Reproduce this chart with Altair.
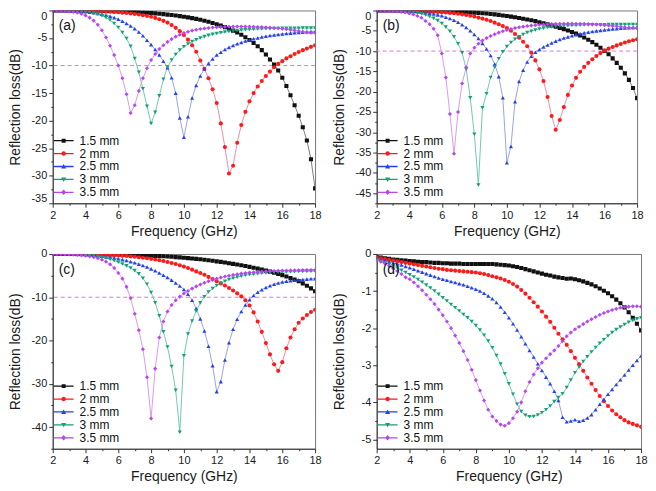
import altair as alt
import pandas as pd

FONT = "Liberation Sans"

freq = [2.0, 2.25, 2.5, 2.75, 3.0, 3.25, 3.5, 3.75, 4.0, 4.25, 4.5, 4.75,
        5.0, 5.25, 5.5, 5.75, 6.0, 6.25, 6.5, 6.75, 7.0, 7.25, 7.5, 7.75,
        8.0, 8.25, 8.5, 8.75, 9.0, 9.25, 9.5, 9.75, 10.0, 10.25, 10.5, 10.75,
        11.0, 11.25, 11.5, 11.75, 12.0, 12.25, 12.5, 12.75, 13.0, 13.25, 13.5, 13.75,
        14.0, 14.25, 14.5, 14.75, 15.0, 15.25, 15.5, 15.75, 16.0, 16.25, 16.5, 16.75,
        17.0, 17.25, 17.5, 17.75, 18.0]

# ---------------- panel (a) ----------------
a_15 = [0, 0, -0.01, -0.01, -0.01, -0.02, -0.02, -0.03, -0.03, -0.04, -0.05, -0.06,
        -0.07, -0.08, -0.1, -0.12, -0.14, -0.17, -0.2, -0.23, -0.27, -0.31, -0.36, -0.41,
        -0.47, -0.53, -0.6, -0.67, -0.75, -0.83, -0.92, -1.02, -1.13, -1.25, -1.38, -1.53,
        -1.69, -1.87, -2.06, -2.27, -2.5, -2.75, -3.02, -3.32, -3.65, -4.0, -4.4, -4.85,
        -5.35, -5.9, -6.5, -7.2, -8.0, -8.9, -9.8, -10.9, -12.2, -13.7, -15.4, -17.2,
        -19.1, -21.2, -23.6, -27.0, -32.3]
a_20 = [0, -0.01, -0.01, -0.02, -0.03, -0.04, -0.05, -0.06, -0.08, -0.1, -0.12, -0.14,
        -0.17, -0.2, -0.24, -0.28, -0.33, -0.39, -0.46, -0.54, -0.63, -0.74, -0.86, -1.0,
        -1.15, -1.35, -1.6, -1.88, -2.2, -2.65, -3.15, -3.75, -4.45, -5.3, -6.3, -7.5,
        -9.1, -10.6, -12.3, -14.3, -16.8, -20.5, -24.8, -29.6, -28.2, -24.0, -20.8, -18.4,
        -16.5, -15.0, -13.8, -12.8, -11.9, -11.1, -10.3, -9.7, -9.2, -8.7, -8.3, -7.9,
        -7.55, -7.2, -6.9, -6.6, -6.3]
a_25 = [0, -0.01, -0.02, -0.03, -0.06, -0.09, -0.13, -0.18, -0.24, -0.32, -0.42, -0.55,
        -0.7, -0.85, -1.05, -1.3, -1.6, -1.95, -2.35, -2.8, -3.3, -3.9, -4.6, -5.4,
        -6.2, -7.1, -8.1, -9.2, -10.4, -12.2, -15.0, -19.5, -23.0, -19.3, -15.9, -13.6,
        -11.9, -10.6, -9.6, -8.8, -8.1, -7.6, -7.1, -6.7, -6.35, -6.05, -5.8, -5.55,
        -5.35, -5.15, -4.98, -4.82, -4.68, -4.56, -4.45, -4.35, -4.26, -4.18, -4.11, -4.04,
        -3.98, -3.93, -3.88, -3.84, -3.8]
a_30 = [0, -0.01, -0.02, -0.04, -0.06, -0.09, -0.13, -0.18, -0.28, -0.38, -0.52, -0.7,
        -0.95, -1.3, -1.75, -2.35, -3.1, -4.0, -5.1, -6.5, -8.7, -11.2, -14.2, -17.4,
        -20.5, -18.5, -15.5, -12.5, -10.3, -9.0, -8.0, -7.2, -6.6, -6.1, -5.65, -5.3,
        -5.0, -4.75, -4.52, -4.33, -4.17, -4.03, -3.91, -3.81, -3.72, -3.64, -3.57, -3.51,
        -3.46, -3.42, -3.38, -3.35, -3.32, -3.3, -3.28, -3.26, -3.25, -3.24, -3.23, -3.22,
        -3.21, -3.2, -3.2, -3.2, -3.2]
a_35 = [0, -0.02, -0.05, -0.1, -0.17, -0.27, -0.4, -0.6, -0.9, -1.3, -1.85, -2.6,
        -3.6, -4.9, -6.4, -8.1, -10.0, -12.3, -15.2, -18.6, -17.2, -14.6, -12.3, -10.5,
        -9.0, -7.9, -7.0, -6.3, -5.7, -5.2, -4.75, -4.4, -4.1, -3.85, -3.65, -3.5,
        -3.37, -3.26, -3.17, -3.1, -3.04, -3.0, -2.97, -2.95, -2.93, -2.92, -2.92, -2.93,
        -2.94, -2.96, -2.99, -3.02, -3.06, -3.11, -3.17, -3.24, -3.32, -3.41, -3.51, -3.62,
        -3.73, -3.85, -3.97, -4.05, -4.1]

# ---------------- panel (b) ----------------
b_15 = [0, 0, 0, -0.01, -0.01, -0.01, -0.02, -0.02, -0.03, -0.04, -0.05, -0.06,
        -0.07, -0.09, -0.11, -0.13, -0.16, -0.19, -0.22, -0.26, -0.3, -0.35, -0.4, -0.46,
        -0.52, -0.59, -0.67, -0.76, -0.86, -0.97, -1.09, -1.22, -1.36, -1.51, -1.67, -1.84,
        -2.02, -2.21, -2.41, -2.63, -2.9, -3.15, -3.42, -3.7, -4.0, -4.3, -4.6, -4.95,
        -5.3, -5.7, -6.15, -6.65, -7.2, -7.8, -8.45, -9.17, -9.95, -10.8, -11.8, -12.9,
        -14.1, -15.5, -17.1, -19.1, -21.6]
b_20 = [0, -0.01, -0.01, -0.02, -0.03, -0.04, -0.05, -0.07, -0.09, -0.11, -0.14, -0.17,
        -0.21, -0.25, -0.3, -0.36, -0.43, -0.51, -0.6, -0.7, -0.82, -0.95, -1.1, -1.3,
        -1.5, -1.75, -2.0, -2.3, -2.6, -3.0, -3.4, -3.85, -4.3, -5.0, -5.8, -6.7,
        -7.7, -8.8, -10.4, -12.3, -14.5, -17.4, -21.3, -26.0, -29.4, -27.0, -23.8, -20.8,
        -18.5, -16.6, -15.1, -13.9, -12.9, -12.0, -11.2, -10.5, -9.9, -9.4, -9.0, -8.6,
        -8.25, -7.9, -7.6, -7.35, -7.1]
b_25 = [0, -0.01, -0.02, -0.03, -0.05, -0.07, -0.1, -0.14, -0.19, -0.25, -0.32, -0.41,
        -0.55, -0.7, -0.88, -1.08, -1.3, -1.65, -2.0, -2.4, -2.9, -3.5, -4.2, -5.0,
        -5.9, -6.9, -8.1, -9.5, -11.1, -13.2, -16.3, -21.5, -37.5, -33.5, -22.5, -17.5,
        -14.7, -12.7, -11.3, -10.3, -9.6, -9.0, -8.5, -8.0, -7.55, -7.15, -6.8, -6.5,
        -6.2, -5.95, -5.72, -5.52, -5.34, -5.18, -5.03, -4.9, -4.78, -4.67, -4.57, -4.48,
        -4.4, -4.32, -4.25, -4.18, -4.12]
b_30 = [0, -0.01, -0.03, -0.05, -0.08, -0.12, -0.17, -0.24, -0.33, -0.44, -0.58, -0.8,
        -1.1, -1.5, -1.95, -2.5, -3.2, -4.1, -5.1, -6.5, -8.2, -10.4, -14.5, -21.5,
        -30.5, -43.0, -24.0, -20.5, -16.5, -14.0, -11.9, -10.2, -8.9, -7.9, -7.1, -6.45,
        -5.9, -5.45, -5.1, -4.8, -4.55, -4.35, -4.2, -4.07, -3.97, -3.89, -3.82, -3.76,
        -3.71, -3.67, -3.63, -3.6, -3.57, -3.55, -3.53, -3.51, -3.5, -3.49, -3.48, -3.47,
        -3.46, -3.46, -3.45, -3.45, -3.45]
b_35 = [0, -0.02, -0.05, -0.09, -0.15, -0.23, -0.34, -0.5, -0.75, -1.0, -1.35, -1.8,
        -2.6, -3.4, -4.5, -6.1, -10.6, -16.5, -25.5, -35.3, -25.0, -18.0, -14.0, -10.6,
        -9.2, -8.2, -7.4, -6.8, -6.3, -5.85, -5.45, -5.1, -4.8, -4.55, -4.33, -4.14,
        -3.98, -3.84, -3.72, -3.62, -3.53, -3.46, -3.4, -3.35, -3.31, -3.28, -3.26, -3.25,
        -3.25, -3.26, -3.28, -3.31, -3.35, -3.4, -3.46, -3.53, -3.61, -3.7, -3.8, -3.91,
        -4.02, -4.13, -4.24, -4.33, -4.4]

# ---------------- panel (c) ----------------
c_15 = [0, 0, 0, 0, -0.01, -0.01, -0.01, -0.02, -0.02, -0.03, -0.04, -0.05,
        -0.06, -0.07, -0.09, -0.11, -0.13, -0.15, -0.18, -0.21, -0.24, -0.27, -0.31, -0.35,
        -0.39, -0.44, -0.49, -0.54, -0.6, -0.66, -0.73, -0.8, -0.88, -0.96, -1.05, -1.14,
        -1.24, -1.35, -1.46, -1.58, -1.71, -1.84, -1.98, -2.13, -2.29, -2.45, -2.62, -2.8,
        -2.99, -3.19, -3.4, -3.62, -3.85, -4.09, -4.35, -4.62, -4.9, -5.2, -5.55, -5.9,
        -6.3, -6.8, -7.35, -7.95, -8.6]
c_20 = [0, -0.01, -0.01, -0.02, -0.03, -0.04, -0.05, -0.06, -0.08, -0.1, -0.12, -0.14,
        -0.17, -0.2, -0.24, -0.29, -0.35, -0.41, -0.48, -0.56, -0.65, -0.75, -0.86, -0.99,
        -1.13, -1.28, -1.45, -1.64, -1.85, -2.08, -2.33, -2.61, -2.92, -3.26, -3.63, -4.03,
        -4.4, -4.8, -5.3, -5.8, -6.3, -6.8, -7.3, -7.85, -8.45, -9.1, -9.8, -10.7,
        -11.9, -13.5, -15.6, -18.0, -20.6, -23.2, -25.5, -27.0, -25.0, -21.8, -19.3, -17.4,
        -15.9, -14.9, -14.1, -13.4, -12.9]
c_25 = [0, -0.01, -0.02, -0.03, -0.05, -0.07, -0.1, -0.14, -0.19, -0.25, -0.32, -0.41,
        -0.51, -0.63, -0.77, -0.93, -1.11, -1.31, -1.53, -1.78, -2.05, -2.35, -2.67, -3.02,
        -3.45, -3.9, -4.4, -4.9, -5.45, -6.05, -6.7, -7.4, -8.2, -9.3, -10.7, -12.6,
        -15.0, -17.8, -21.3, -25.8, -31.8, -29.5, -24.5, -20.5, -17.4, -15.1, -13.3, -11.8,
        -10.6, -9.6, -8.85, -8.25, -7.75, -7.35, -7.0, -6.72, -6.5, -6.32, -6.18, -6.06,
        -5.96, -5.88, -5.81, -5.75, -5.7]
c_30 = [0, -0.01, -0.03, -0.05, -0.06, -0.09, -0.14, -0.2, -0.28, -0.37, -0.48, -0.62,
        -0.8, -1.0, -1.25, -1.55, -1.9, -2.3, -2.75, -3.25, -3.85, -4.6, -5.6, -7.0,
        -8.9, -11.3, -14.3, -18.0, -21.5, -26.0, -31.5, -41.2, -23.5, -18.5, -15.5, -13.2,
        -11.3, -9.9, -8.8, -8.0, -7.3, -6.75, -6.3, -5.9, -5.6, -5.35, -5.12, -4.93,
        -4.78, -4.66, -4.56, -4.47, -4.4, -4.34, -4.29, -4.24, -4.2, -4.16, -4.13, -4.1,
        -4.07, -4.05, -4.03, -4.01, -4.0]
c_35 = [0, -0.01, -0.02, -0.04, -0.07, -0.12, -0.19, -0.28, -0.4, -0.55, -0.75, -1.0,
        -1.35, -1.8, -2.4, -3.25, -4.4, -5.7, -7.6, -10.2, -13.8, -17.6, -22.0, -28.5,
        -38.0, -26.5, -19.3, -15.6, -13.3, -11.8, -10.7, -9.85, -9.15, -8.55, -8.0, -7.5,
        -7.05, -6.65, -6.3, -5.98, -5.7, -5.45, -5.22, -5.02, -4.84, -4.68, -4.54, -4.42,
        -4.31, -4.22, -4.14, -4.07, -4.01, -3.96, -3.92, -3.88, -3.85, -3.82, -3.8, -3.78,
        -3.76, -3.74, -3.73, -3.71, -3.7]

# ---------------- panel (d) ----------------
d_15 = [-0.08, -0.1, -0.12, -0.13, -0.15, -0.16, -0.17, -0.18, -0.19, -0.2, -0.21, -0.22,
        -0.22, -0.23, -0.24, -0.24, -0.25, -0.25, -0.26, -0.26, -0.26, -0.27, -0.27, -0.27,
        -0.27, -0.27, -0.27, -0.27, -0.27, -0.28, -0.29, -0.3, -0.31, -0.33, -0.35, -0.38,
        -0.41, -0.44, -0.47, -0.5, -0.53, -0.56, -0.58, -0.61, -0.63, -0.65, -0.67, -0.66,
        -0.68, -0.71, -0.74, -0.78, -0.82, -0.87, -0.93, -0.99, -1.06, -1.14, -1.23, -1.33,
        -1.44, -1.57, -1.72, -1.88, -2.06]
d_20 = [-0.1, -0.12, -0.14, -0.16, -0.18, -0.2, -0.22, -0.24, -0.26, -0.28, -0.3, -0.32,
        -0.34, -0.36, -0.38, -0.4, -0.41, -0.43, -0.44, -0.45, -0.46, -0.47, -0.48, -0.49,
        -0.5, -0.52, -0.54, -0.57, -0.6, -0.63, -0.66, -0.7, -0.75, -0.81, -0.88, -0.97,
        -1.07, -1.18, -1.3, -1.42, -1.55, -1.69, -1.83, -1.99, -2.15, -2.3, -2.45, -2.62,
        -2.8, -2.97, -3.15, -3.33, -3.5, -3.67, -3.83, -3.97, -4.1, -4.22, -4.32, -4.4,
        -4.48, -4.54, -4.58, -4.62, -4.66]
d_25 = [-0.13, -0.15, -0.18, -0.21, -0.24, -0.27, -0.3, -0.34, -0.37, -0.41, -0.45, -0.49,
        -0.53, -0.57, -0.61, -0.65, -0.68, -0.71, -0.74, -0.77, -0.8, -0.83, -0.87, -0.91,
        -0.95, -1.0, -1.06, -1.13, -1.21, -1.31, -1.43, -1.57, -1.72, -1.88, -2.05, -2.23,
        -2.42, -2.6, -2.78, -2.96, -3.14, -3.32, -3.5, -3.7, -3.95, -4.4, -4.52, -4.5,
        -4.47, -4.51, -4.48, -4.42, -4.33, -4.2, -4.05, -3.92, -3.78, -3.65, -3.52, -3.39,
        -3.26, -3.13, -3.0, -2.87, -2.75]
d_30 = [-0.16, -0.2, -0.24, -0.28, -0.33, -0.38, -0.44, -0.5, -0.56, -0.62, -0.69, -0.76,
        -0.84, -0.92, -1.0, -1.09, -1.18, -1.27, -1.36, -1.45, -1.54, -1.63, -1.72, -1.82,
        -1.93, -2.05, -2.19, -2.35, -2.53, -2.74, -2.97, -3.23, -3.5, -3.78, -4.05, -4.25,
        -4.35, -4.39, -4.38, -4.34, -4.28, -4.2, -4.1, -3.98, -3.87, -3.77, -3.6, -3.4,
        -3.2, -3.05, -2.9, -2.77, -2.64, -2.52, -2.41, -2.31, -2.21, -2.12, -2.04, -1.97,
        -1.9, -1.84, -1.79, -1.75, -1.72]
d_35 = [-0.17, -0.21, -0.26, -0.32, -0.39, -0.46, -0.54, -0.63, -0.68, -0.77, -0.87, -0.98,
        -1.1, -1.22, -1.35, -1.5, -1.65, -1.82, -2.0, -2.2, -2.4, -2.62, -2.86, -3.12,
        -3.4, -3.68, -3.95, -4.2, -4.38, -4.5, -4.6, -4.63, -4.56, -4.43, -4.25, -4.0,
        -3.7, -3.45, -3.25, -3.08, -2.93, -2.81, -2.7, -2.6, -2.48, -2.35, -2.22, -2.12,
        -2.03, -1.96, -1.89, -1.82, -1.76, -1.7, -1.64, -1.59, -1.55, -1.51, -1.48, -1.45,
        -1.43, -1.42, -1.41, -1.41, -1.42]

series_names = ["1.5 mm", "2 mm", "2.5 mm", "3 mm", "3.5 mm"]
panel_tags = ["(a)", "(b)", "(c)", "(d)"]
threshold = [-10]

x_major = [2, 4, 6, 8, 10, 12, 14, 16, 18]
x_minor = [3, 5, 7, 9, 11, 13, 15, 17]
y_major_a = [0, -5, -10, -15, -20, -25, -30, -35]
y_minor_a = [-2.5, -7.5, -12.5, -17.5, -22.5, -27.5, -32.5]
y_major_b = [0, -5, -10, -15, -20, -25, -30, -35, -40, -45]
y_minor_b = [-2.5, -7.5, -12.5, -17.5, -22.5, -27.5, -32.5, -37.5, -42.5, -47.5]
y_major_c = [0, -10, -20, -30, -40]
y_minor_c = [-5, -15, -25, -35, -45]
y_major_d = [0, -1, -2, -3, -4, -5]
y_minor_d = [-0.5, -1.5, -2.5, -3.5, -4.5]

# styles
marker_colors = ["#111111", "#ff1a1a", "#2442ea", "#13a077", "#b447f0"]
line_colors = ["#6e6e6e", "#f27ca2", "#8d98e8", "#62c4a6", "#d98cf0"]
marker_shapes = ["square", "circle", "triangle-up", "triangle-down", "diamond"]
_seg = "M-2,-0.13H2V0.13H-2Z"
legend_shapes = [
    _seg + "M-0.4,-0.4H0.4V0.4H-0.4Z",
    _seg + "M0.45,0A0.45,0.45,0,1,1,-0.45,0A0.45,0.45,0,1,1,0.45,0Z",
    _seg + "M0,-0.5L0.5,0.4H-0.5Z",
    _seg + "M0,0.5L-0.5,-0.4H0.5Z",
    _seg + "M0,-0.55L0.5,0L0,0.55L-0.5,0Z",
]

for arr in [a_15, a_20, a_25, a_30, a_35, b_15, b_20, b_25, b_30, b_35,
            c_15, c_20, c_25, c_30, c_35, d_15, d_20, d_25, d_30, d_35]:
    assert len(arr) == len(freq), len(arr)


def make_panel(tag, curves, ydom, ymaj, ymin, w, h, with_threshold, flush):
    rows = []
    for name, vals in zip(series_names, curves):
        for f, v in zip(freq, vals):
            rows.append({"f": f, "rl": v, "s": name})
    df = pd.DataFrame(rows)
    xs = alt.Scale(domain=[2, 18], nice=False, zero=False)
    ys = alt.Scale(domain=ydom, nice=False, zero=False)
    base = alt.Chart(df)

    x_axis = alt.Axis(values=x_major, title="Frequency (GHz)", tickSize=4, labelPadding=2,
                      titlePadding=4, labelFlush=False, grid=False)
    y_axis = alt.Axis(values=ymaj, title="Reflection loss(dB)", tickSize=4, labelPadding=2,
                      titlePadding=6, minExtent=24, labelExpr="datum.value + ''",
                      labelFlush=flush, grid=False)
    x_minor_axis = alt.Axis(values=x_minor, orient="bottom", labels=False, title=None,
                            domain=False, tickSize=2, grid=False)
    y_minor_axis = alt.Axis(values=ymin, orient="left", labels=False, title=None,
                            domain=False, tickSize=2, grid=False)

    lines = base.mark_line(strokeWidth=0.9, clip=True).encode(
        x=alt.X("f:Q", scale=xs, axis=x_axis),
        y=alt.Y("rl:Q", scale=ys, axis=y_axis),
        stroke=alt.Stroke("s:N", scale=alt.Scale(domain=series_names, range=line_colors), legend=None),
        order="f:Q",
    )
    pts = base.mark_point(filled=True, size=17, opacity=1, clip=True).encode(
        x=alt.X("f:Q", scale=xs, axis=x_minor_axis),
        y=alt.Y("rl:Q", scale=ys, axis=y_minor_axis),
        color=alt.Color("s:N", scale=alt.Scale(domain=series_names, range=marker_colors), legend=None),
        shape=alt.Shape("s:N", scale=alt.Scale(domain=series_names, range=marker_shapes), legend=None),
    )
    leg_props = dict(title=None, orient="bottom-left", offset=5, labelFontSize=12,
                     labelFont=FONT, labelColor="#111", symbolSize=100, labelOffset=10,
                     rowPadding=1, symbolStrokeWidth=0, padding=0)
    leg = base.transform_filter("datum.f > 100").mark_point(filled=True, opacity=1).encode(
        color=alt.Color("s:N", scale=alt.Scale(domain=series_names, range=marker_colors),
                        legend=alt.Legend(**leg_props)),
        shape=alt.Shape("s:N", scale=alt.Scale(domain=series_names, range=legend_shapes),
                        legend=alt.Legend(**leg_props)),
    )
    tag_layer = alt.Chart(pd.DataFrame({"tag": [tag]})).mark_text(
        align="left", baseline="middle", fontSize=14, font=FONT, color="#111"
    ).encode(x=alt.value(6), y=alt.value(16), text="tag:N")

    layers = []
    if with_threshold:
        rule = alt.Chart(pd.DataFrame({"t": threshold})).mark_rule(
            color="#e56fe5", strokeDash=[4, 3], strokeWidth=1
        ).encode(y=alt.Y("t:Q", scale=ys, axis=None))
        layers.append(rule)
    layers += [lines, pts, leg, tag_layer]
    return alt.layer(*layers).resolve_scale(
        color="independent", shape="independent"
    ).resolve_axis(x="independent", y="independent").properties(width=w, height=h)


pa = make_panel(panel_tags[0], [a_15, a_20, a_25, a_30, a_35], [-35, 0], y_major_a, y_minor_a, 264, 194, True, True)
pb = make_panel(panel_tags[1], [b_15, b_20, b_25, b_30, b_35], [-47.5, 0], y_major_b, y_minor_b, 262, 194, True, True)
pc = make_panel(panel_tags[2], [c_15, c_20, c_25, c_30, c_35], [-45, 0], y_major_c, y_minor_c, 264, 196, True, False)
pd_ = make_panel(panel_tags[3], [d_15, d_20, d_25, d_30, d_35], [-5.25, 0], y_major_d, y_minor_d, 266, 196, False, False)

res = dict(color="independent", shape="independent", stroke="independent")
row1 = alt.hconcat(pa, pb, spacing=10).resolve_scale(**res)
row2 = alt.hconcat(pc, pd_, spacing=10).resolve_scale(**res)

chart = alt.vconcat(row1, row2, spacing=8).resolve_scale(**res).properties(
    padding=0
).configure_view(
    stroke="#777", strokeWidth=1
).configure_axis(
    labelFont=FONT, titleFont=FONT, labelFontSize=11, titleFontSize=14,
    titleFontWeight="normal", labelColor="#1a1a1a", titleColor="#1a1a1a",
    domainColor="#333", tickColor="#333", grid=False
)

chart.save("out.html", embed_options={"renderer": "svg", "actions": False})
